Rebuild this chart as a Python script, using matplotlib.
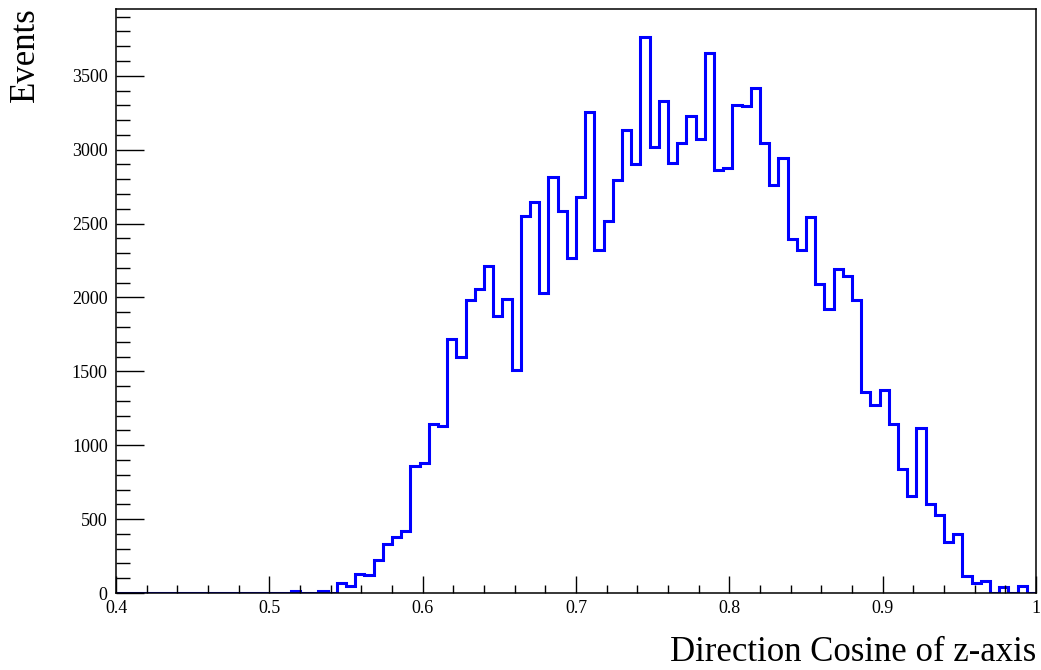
import numpy as np
import matplotlib
matplotlib.use('Agg')
import matplotlib.pyplot as plt
from matplotlib.ticker import MultipleLocator

# === BINNING ===
X_MIN = 0.4
X_MAX = 1.0
N_BINS = 100

# === CONTENTS PER BIN ===
events = [
    0, 0, 0, 0, 0, 0, 0, 0, 0, 0,
    0, 0, 0, 0, 0, 0, 0, 0, 0, 16,
    0, 0, 16, 0, 65, 49, 128, 122, 221, 331,
    376, 421, 858, 883, 1142, 1130, 1716, 1597, 1980, 2059,
    2210, 1872, 1991, 1507, 2550, 2649, 2032, 2813, 2583, 2264,
    2678, 3257, 2318, 2520, 2797, 3133, 2903, 3764, 3020, 3331,
    2908, 3045, 3225, 3072, 3653, 2863, 2876, 3304, 3293, 3417,
    3047, 2761, 2941, 2397, 2322, 2543, 2093, 1924, 2194, 2142,
    1980, 1360, 1270, 1374, 1146, 836, 655, 1120, 601, 527,
    345, 396, 117, 65, 81, 0, 38, 0, 47, 0,
]

x_titulo = 'Direction Cosine of z-axis'
y_titulo = 'Events'

edges = np.linspace(X_MIN, X_MAX, N_BINS + 1)

plt.rcParams['font.family'] = ['Liberation Serif', 'DejaVu Serif']

fig = plt.figure(figsize=(10.41, 6.70), dpi=100)
ax = fig.add_axes([116 / 1041, 77 / 670, 920 / 1041, 584 / 670])

ax.stairs(events, edges, color='#0000ff', linewidth=2.2, baseline=None)

ax.set_xlim(X_MIN, X_MAX)
ax.set_ylim(0, 1.05 * max(events))

ax.xaxis.set_major_locator(MultipleLocator(0.1))
ax.xaxis.set_minor_locator(MultipleLocator(0.02))
ax.yaxis.set_major_locator(MultipleLocator(500))
ax.yaxis.set_minor_locator(MultipleLocator(100))
ax.xaxis.set_major_formatter(plt.FuncFormatter(lambda v, p: '1' if abs(v - 1) < 1e-9 else f'{v:.1f}'))

ax.tick_params(axis='both', which='both', direction='in', labelsize=13, colors='black',
               top=False, right=False)
ax.tick_params(axis='y', which='major', length=20, width=1.0, pad=6)
ax.tick_params(axis='y', which='minor', length=10, width=1.0)
ax.tick_params(axis='x', which='major', length=12, width=1.0, pad=5)
ax.tick_params(axis='x', which='minor', length=6, width=1.0)

for s in ax.spines.values():
    s.set_linewidth(1.1)

fig.text(1036 / 1041, 9 / 670, x_titulo, ha='right', va='baseline', fontsize=25)
fig.text(9 / 1041, 663 / 670, y_titulo, ha='left', va='top', rotation=90, fontsize=25)

fig.savefig('out.png', dpi=100)
